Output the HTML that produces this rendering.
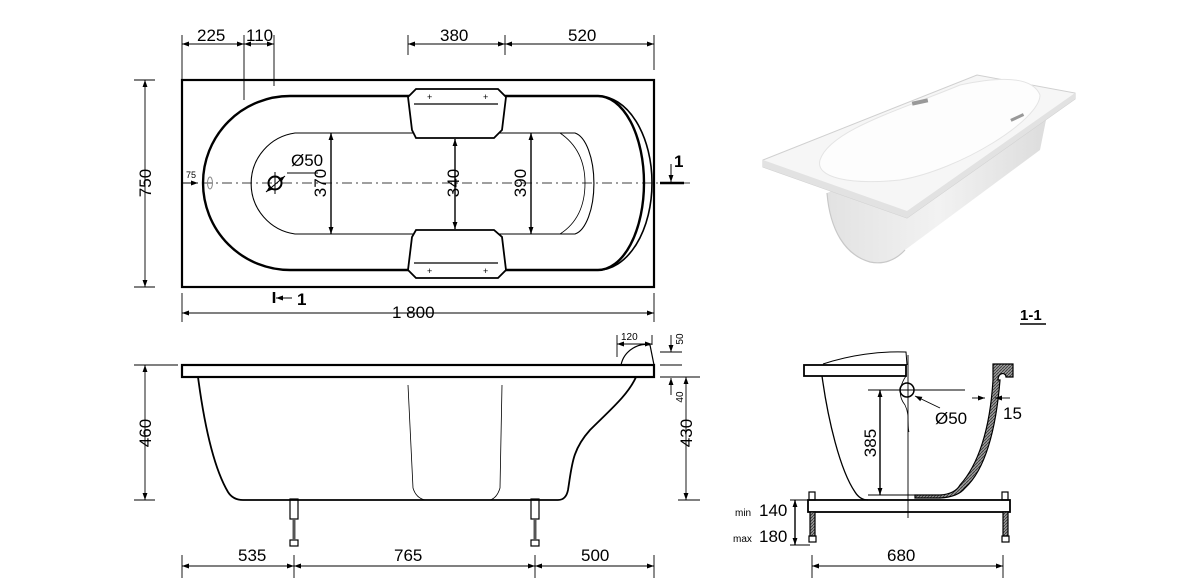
<!DOCTYPE html>
<html><head><meta charset="utf-8"><style>
html,body{margin:0;padding:0;background:#fff;}
svg{display:block;font-family:"Liberation Sans",Arial,sans-serif;}
</style></head><body>
<svg width="1200" height="579" viewBox="0 0 1200 579" xmlns="http://www.w3.org/2000/svg">
<defs>
<marker id="a" viewBox="0 0 10 10" refX="10" refY="5" markerWidth="9" markerHeight="7" orient="auto-start-reverse" markerUnits="userSpaceOnUse"><path d="M0,1.5 L10,5 L0,8.5z" fill="#000"/></marker>
<pattern id="h" width="3" height="3" patternUnits="userSpaceOnUse"><rect width="3" height="3" fill="#999"/><path d="M0,3 L3,0" stroke="#333" stroke-width="0.8"/></pattern>
<linearGradient id="bg" x1="0" y1="0" x2="1" y2="0"><stop offset="0" stop-color="#e2e2e2"/><stop offset="0.5" stop-color="#f2f2f2"/><stop offset="1" stop-color="#dcdcdc"/></linearGradient>
</defs>
<g stroke="#000" fill="none" stroke-width="1">
<!-- TOP VIEW -->
<rect x="182" y="80" width="472" height="207" stroke-width="2.2"/>
<path d="M290,96 H598 A46,87 0 0 1 644,183 A46,87 0 0 1 598,270 H290 A87,87 0 0 1 290,96 Z" stroke-width="2.4"/>
<path d="M598,96 A54,87 0 0 1 652,183 A54,87 0 0 1 598,270" stroke-width="1.6"/>
<path d="M295,133 H575 A22,51 0 0 1 575,234 H295 A51,51 0 0 1 295,133 Z" stroke-width="1.1"/>
<path d="M560,133 Q585,150 585,183 Q585,218 560,234" stroke-width="0.8"/>
<!-- headrests -->
<path d="M408,97 L416,89 H498 L506,97 L502,130 L494,138 H416 L412,130 Z" fill="#fff" stroke-width="1.8"/>
<path d="M408,270 L416,278 H498 L506,270 L502,237 L494,230 H416 L412,237 Z" fill="#fff" stroke-width="1.8"/>
<line x1="414" y1="104" x2="498" y2="104" stroke-width="1.2"/>
<line x1="414" y1="263" x2="498" y2="263" stroke-width="1.2"/>
<text x="427" y="100" font-size="9" fill="#000" stroke="none">+</text><text x="483" y="100" font-size="9" fill="#000" stroke="none">+</text>
<text x="427" y="274" font-size="9" fill="#000" stroke="none">+</text><text x="483" y="274" font-size="9" fill="#000" stroke="none">+</text>
<!-- centerline -->
<line x1="182" y1="183" x2="690" y2="183" stroke-dasharray="10,4,2,4" stroke-width="0.8"/>
<ellipse cx="210" cy="183" rx="2.5" ry="6" stroke="#888"/>
<circle cx="275" cy="183" r="6.5" stroke-width="2"/>
<line x1="275" y1="172" x2="275" y2="194"/>
<line x1="287" y1="173" x2="318" y2="173"/>
<line x1="266" y1="192" x2="285" y2="176" marker-start="url(#a)" marker-end="url(#a)"/>
<!-- internal dims -->
<line x1="331" y1="133" x2="331" y2="234" marker-start="url(#a)" marker-end="url(#a)" stroke-width="1.4"/>
<line x1="455" y1="139" x2="455" y2="229" marker-start="url(#a)" marker-end="url(#a)" stroke-width="1.4"/>
<line x1="531" y1="133" x2="531" y2="234" marker-start="url(#a)" marker-end="url(#a)" stroke-width="1.4"/>
<!-- top dims -->
<g stroke-width="0.9">
<line x1="182" y1="35" x2="182" y2="80"/><line x1="244" y1="35" x2="244" y2="100"/><line x1="274" y1="35" x2="274" y2="86"/>
<line x1="408" y1="35" x2="408" y2="55"/><line x1="505" y1="35" x2="505" y2="55"/><line x1="654" y1="35" x2="654" y2="70"/>
<line x1="182" y1="44" x2="244" y2="44" marker-start="url(#a)" marker-end="url(#a)"/>
<line x1="244" y1="44" x2="274" y2="44" marker-start="url(#a)" marker-end="url(#a)"/>
<line x1="408" y1="44" x2="505" y2="44" marker-start="url(#a)" marker-end="url(#a)"/>
<line x1="505" y1="44" x2="654" y2="44" marker-start="url(#a)" marker-end="url(#a)"/>
<line x1="134" y1="80" x2="155" y2="80"/><line x1="134" y1="287" x2="155" y2="287"/>
<line x1="145" y1="80" x2="145" y2="287" marker-start="url(#a)" marker-end="url(#a)"/>
<line x1="182" y1="293" x2="182" y2="322"/><line x1="654" y1="293" x2="654" y2="322"/>
<line x1="182" y1="313" x2="654" y2="313" marker-start="url(#a)" marker-end="url(#a)"/>
<line x1="182" y1="183" x2="198" y2="183" marker-end="url(#a)"/>
</g>
<line x1="274" y1="292" x2="274" y2="303" stroke-width="2.5"/><line x1="276" y1="298" x2="292" y2="298" marker-start="url(#a)"/>
<line x1="671" y1="164" x2="671" y2="182" marker-end="url(#a)"/><line x1="660" y1="183" x2="684" y2="183" stroke-width="2.5"/>

<!-- SIDE VIEW -->
<rect x="182" y="365" width="472" height="12" stroke-width="2.2"/>
<path d="M198,377 C205,430 215,470 228,492 Q233,500 243,500 H558 Q566,500 568,490 C572,465 572,450 590,430 C610,410 628,395 636,377" stroke-width="1.8"/>
<path d="M408,385 L413,488 Q416,498 425,500 M502,385 L500,488 Q497,498 490,500" stroke-width="0.8"/>
<path d="M621,365 C624,350 640,342 650,345 L654,365" stroke-width="1.2"/>
<g stroke-width="1.2">
<rect x="290" y="499" width="8" height="20"/><rect x="290" y="540" width="8" height="6"/><line x1="294" y1="519" x2="294" y2="540" stroke-width="3" stroke="#555"/>
<rect x="531" y="499" width="8" height="20"/><rect x="531" y="540" width="8" height="6"/><line x1="535" y1="519" x2="535" y2="540" stroke-width="3" stroke="#555"/>
</g>
<g stroke-width="0.9">
<line x1="134" y1="365" x2="178" y2="365"/><line x1="134" y1="500" x2="155" y2="500"/>
<line x1="145" y1="365" x2="145" y2="500" marker-start="url(#a)" marker-end="url(#a)"/>
<line x1="660" y1="377" x2="700" y2="377"/><line x1="678" y1="500" x2="700" y2="500"/>
<line x1="686" y1="377" x2="686" y2="500" marker-start="url(#a)" marker-end="url(#a)"/>
<line x1="660" y1="352" x2="682" y2="352"/><line x1="660" y1="365" x2="682" y2="365"/>
<line x1="671" y1="335" x2="671" y2="352" marker-end="url(#a)"/><line x1="671" y1="395" x2="671" y2="378" marker-end="url(#a)"/>
<line x1="617" y1="335" x2="617" y2="357"/><line x1="652" y1="335" x2="652" y2="345"/>
<line x1="617" y1="344" x2="652" y2="344" marker-start="url(#a)" marker-end="url(#a)"/>
<line x1="182" y1="555" x2="182" y2="578"/><line x1="294" y1="555" x2="294" y2="578"/><line x1="535" y1="555" x2="535" y2="578"/><line x1="654" y1="555" x2="654" y2="578"/>
<line x1="182" y1="566" x2="294" y2="566" marker-start="url(#a)" marker-end="url(#a)"/>
<line x1="294" y1="566" x2="535" y2="566" marker-start="url(#a)" marker-end="url(#a)"/>
<line x1="535" y1="566" x2="654" y2="566" marker-start="url(#a)" marker-end="url(#a)"/>
</g>

<!-- SECTION 1-1 -->
<rect x="804" y="365" width="102" height="11" stroke-width="1.8"/>
<path d="M823,364 C850,355 880,351 906,352 L907,365" stroke-width="1"/>
<path d="M822,376 C828,420 840,470 855,492 Q860,500 868,500" stroke-width="1.3"/>
<path d="M906,376 C900,385 897,395 905,405 C910,415 907,425 909,432" stroke-width="0.8"/>
<path d="M993,364 H1013 V377 H1006 C1006,372 998,372 998,380 L1000,380 C996,430 985,470 965,488 Q958,497 940,498 H915 V495 H940 Q955,494 960,485 C978,465 990,430 993,380 Z" fill="url(#h)" stroke-width="1.2"/>
<rect x="808" y="500" width="202" height="12" stroke-width="1.8"/>
<g stroke-width="1.2">
<rect x="809" y="492" width="6" height="8"/><rect x="810" y="512" width="5" height="24" fill="url(#h)"/><rect x="809" y="536" width="7" height="6"/>
<rect x="1002" y="492" width="6" height="8"/><rect x="1003" y="512" width="5" height="24" fill="url(#h)"/><rect x="1002" y="536" width="7" height="6"/>
</g>
<circle cx="907" cy="390" r="7" stroke-width="1.5"/>
<g stroke-width="0.9">
<line x1="908" y1="355" x2="908" y2="518"/>
<line x1="868" y1="390" x2="965" y2="390"/><line x1="868" y1="495" x2="915" y2="495"/>
<line x1="880" y1="390" x2="880" y2="495" marker-start="url(#a)" marker-end="url(#a)" stroke-width="1.4"/>
<line x1="940" y1="408" x2="915" y2="396" marker-end="url(#a)"/>
<line x1="972" y1="398" x2="985" y2="398" marker-end="url(#a)"/><line x1="1010" y1="398" x2="995" y2="398" marker-end="url(#a)"/>
<line x1="790" y1="500" x2="808" y2="500"/><line x1="790" y1="545" x2="810" y2="545"/>
<line x1="795" y1="500" x2="795" y2="545" marker-start="url(#a)" marker-end="url(#a)" stroke-width="1.4"/>
<line x1="812" y1="555" x2="812" y2="578"/><line x1="1003" y1="555" x2="1003" y2="578"/>
<line x1="812" y1="566" x2="1003" y2="566" marker-start="url(#a)" marker-end="url(#a)"/>
<line x1="1020" y1="324" x2="1046" y2="324" stroke-width="1.5"/>
</g>

<!-- PHOTO -->
<g stroke="none">
<path d="M827,193 C830,230 845,255 870,262 Q890,266 905,250 L1040,150 L1050,100 Z" fill="url(#bg)"/>
<path d="M827,193 C830,230 845,255 870,262 Q890,266 905,250" fill="none" stroke="#c8c8c8" stroke-width="1.2"/>
<path d="M763,160 L977,75 L1075,93 L1075,99 L907,218 L763,167 Z" fill="#f6f6f6" stroke="#d0d0d0" stroke-width="1"/>
<path d="M763,160 L763,167 L907,218 L1075,99 L1075,93 L907,211 Z" fill="#e2e2e2"/>
<path d="M820,160 C830,130 900,110 960,85 Q1030,70 1040,95 C1040,120 960,170 900,180 C850,185 815,178 820,160 Z" fill="#fdfdfd" stroke="#e4e4e4"/>
<rect x="912" y="100" width="16" height="4" fill="#999" transform="rotate(-12 920 102)"/>
<rect x="1010" y="116" width="14" height="3" fill="#999" transform="rotate(-25 1017 117)"/>
</g>
</g>

<g font-size="17" fill="#000">
<text x="197" y="41">225</text><text x="246" y="41">110</text>
<text x="440" y="41">380</text><text x="568" y="41">520</text>
<text x="392" y="318">1 800</text>
<text x="291" y="166">Ø50</text>
<text x="297" y="305" font-weight="bold">1</text>
<text x="674" y="167" font-weight="bold">1</text>
<text x="186" y="178" font-size="9">75</text>
<text transform="translate(151,183) rotate(-90)" text-anchor="middle">750</text>
<text transform="translate(326,183) rotate(-90)" text-anchor="middle">370</text>
<text transform="translate(459,183) rotate(-90)" text-anchor="middle">340</text>
<text transform="translate(526,183) rotate(-90)" text-anchor="middle">390</text>
<text transform="translate(151,433) rotate(-90)" text-anchor="middle">460</text>
<text transform="translate(692,433) rotate(-90)" text-anchor="middle">430</text>
<text x="621" y="340" font-size="10">120</text>
<text transform="translate(683,339) rotate(-90)" font-size="10" text-anchor="middle">50</text>
<text transform="translate(683,397) rotate(-90)" font-size="10" text-anchor="middle">40</text>
<text x="238" y="561">535</text><text x="394" y="561">765</text><text x="581" y="561">500</text>
<text x="1020" y="320" font-weight="bold" font-size="15">1-1</text>
<text x="935" y="424">Ø50</text><text x="1003" y="419">15</text>
<text transform="translate(876,443) rotate(-90)" text-anchor="middle">385</text>
<text x="735" y="516" font-size="10">min</text><text x="759" y="516">140</text>
<text x="733" y="542" font-size="10">max</text><text x="759" y="542">180</text>
<text x="887" y="561">680</text>
</g>
</svg>
</body></html>
